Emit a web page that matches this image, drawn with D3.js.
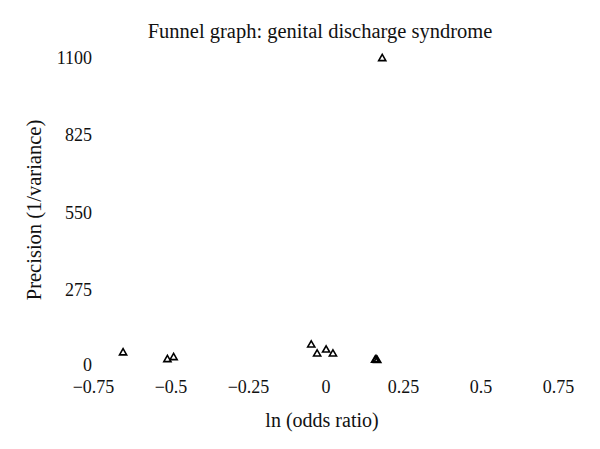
<!DOCTYPE html>
<html><head><meta charset="utf-8">
<script src="https://cdn.jsdelivr.net/npm/d3@7"></script>
<style>body{margin:0;background:#fff}svg text{font-family:"Liberation Serif",serif;fill:#111}</style>
</head><body><svg id="c" width="600" height="449"></svg>
<script>
const xTicks = [-0.75, -0.5, -0.25, 0, 0.25, 0.5, 0.75];
const xTickLabels = ["\u22120.75", "\u22120.5", "\u22120.25", "0", "0.25", "0.5", "0.75"];
const yTicks = [0, 275, 550, 825, 1100];
const yTickLabels = ["0", "275", "550", "825", "1100"];
const lnOR = [-0.653, -0.510, -0.490, -0.046, -0.027, 0.002, 0.024, 0.160, 0.163, 0.167, 0.183];
const precision = [54, 30, 37, 82, 50, 64, 50, 28, 30, 27, 1098];
const title = "Funnel graph: genital discharge syndrome";
const xLabel = "ln (odds ratio)";
const yLabel = "Precision (1/variance)";

const svg = d3.select("#c");
const x = d3.scaleLinear().domain([-0.75, 0.75]).range([93, 558]);
const y = d3.scaleLinear().domain([0, 1100]).range([368, 58]);

const xAxis = d3.axisBottom(x).tickValues(xTicks).tickSize(0).tickFormat((d,i)=>xTickLabels[i]);
const gx = svg.append("g").attr("transform","translate(0,374)").call(xAxis);
gx.select(".domain").remove();
gx.selectAll("text").attr("dy",0).attr("y",19).style("font-size","18px").style("font-family","Liberation Serif");

const yAxis = d3.axisLeft(y).tickValues(yTicks).tickSize(0).tickFormat((d,i)=>yTickLabels[i]);
const gy = svg.append("g").attr("transform","translate(92,0)").call(yAxis);
gy.select(".domain").remove();
gy.selectAll("text").attr("x",0).attr("dy","0.3em").style("font-size","18px").style("font-family","Liberation Serif");
gy.selectAll(".tick").filter(d=>d===0).select("text").attr("dy","0.15em");

const tri = d3.symbol().type(d3.symbolTriangle).size(22);
svg.append("g").selectAll("path").data(lnOR).join("path")
  .attr("d", tri)
  .attr("transform",(d,i)=>`translate(${x(d)},${y(precision[i])})`)
  .attr("fill","none").attr("stroke","#000").attr("stroke-width",1.6);

svg.append("text").attr("x",320).attr("y",38).attr("text-anchor","middle").style("font-size","20.5px").text(title);
svg.append("text").attr("x",322).attr("y",427).attr("text-anchor","middle").style("font-size","20px").text(xLabel);
svg.append("text").attr("transform","translate(41,210) rotate(-90)").attr("text-anchor","middle").style("font-size","20.5px").text(yLabel);
</script></body></html>
